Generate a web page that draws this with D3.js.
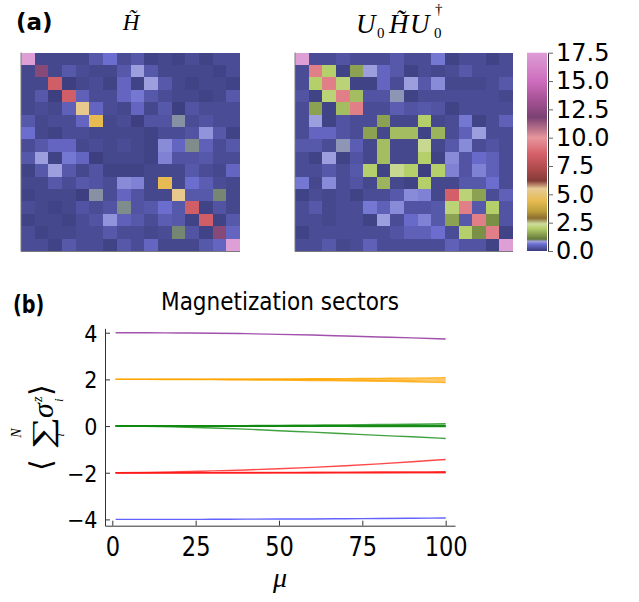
<!DOCTYPE html>
<html><head><meta charset="utf-8">
<script src="https://cdn.jsdelivr.net/npm/d3@7"></script>
<style>body{margin:0;background:#fff}svg{display:block}</style>
</head><body>
<svg id="c" width="639" height="602"></svg>
<script>
// ---------- DATA ----------
const cellIndex = d3.range(16);
const hTilde = [
 [17.5,.15,.15,.15,.15,.35,.6,.2,.35,.1,.15,.1,.2,.1,.2,.2],
 [.15,11.6,.15,.35,.2,.15,.15,.35,.85,.35,.15,.15,.15,.15,.1,.2],
 [.15,.15,8.4,.05,.15,.2,.1,.5,.1,.85,.35,.15,.1,.15,.15,.1],
 [.15,.35,.05,8.4,.45,.2,.2,.5,.65,.35,.2,.15,.15,.1,.15,.35],
 [.15,.2,.15,.45,5.4,.5,.2,.15,.5,.15,.35,.05,.3,.2,.2,.2],
 [.35,.15,.2,.2,.5,4.4,.15,.2,.05,.3,.3,.92,.2,.3,.2,.2],
 [.6,.15,.1,.2,.2,.15,.15,.15,.15,.1,.2,.2,.3,.8,.35,.1],
 [.2,.35,.5,.5,.15,.2,.15,.2,.15,.1,.75,.5,.95,.45,.2,.35],
 [.35,.85,.1,.65,.5,.05,.15,.15,.15,.1,.7,.3,.3,.35,.2,.2],
 [.1,.35,.85,.35,.15,.3,.1,.1,.1,.15,.15,.15,.35,.2,.15,.5],
 [.15,.15,.35,.2,.35,.3,.2,.75,.7,.15,4.4,.15,.6,.4,.2,.15],
 [.1,.15,.15,.15,.05,.92,.2,.5,.3,.15,.15,5.4,.35,.35,.98,.15],
 [.2,.15,.1,.15,.3,.2,.3,.95,.3,.35,.6,.35,8.4,.1,.3,.15],
 [.1,.15,.15,.1,.2,.3,.8,.45,.35,.2,.4,.35,.1,8.4,.1,.35],
 [.2,.1,.15,.15,.2,.2,.35,.2,.2,.15,.2,.98,.3,.1,11.6,.5],
 [.2,.2,.1,.35,.2,.2,.1,.35,.2,.5,.15,.15,.15,.35,.5,17.5]
];
const hRotated = [
 [17.5,.2,.2,.3,.2,.2,.2,.35,.2,.2,.65,.1,.2,.2,.1,.2],
 [.2,9.4,2.0,.1,1.5,.85,.5,.35,.1,.2,.15,.2,.35,.2,.2,.2],
 [.2,2.0,9.4,2.1,.1,.1,.5,.2,.85,.35,.75,.15,.15,.15,.2,.35],
 [.3,.1,2.1,9.4,1.8,.3,.3,.9,.1,.2,.2,.2,.2,.2,.2,.15],
 [.2,1.5,.1,1.8,9.4,.2,.2,.4,.3,.35,.3,.1,.2,.2,.2,.2],
 [.2,.85,.1,.3,.2,.2,1.5,.15,.15,2.0,.15,.2,.65,.1,.2,.45],
 [.2,.5,.5,.3,.2,1.5,.15,1.8,1.8,.1,1.7,.2,.45,.85,.2,.2],
 [.35,.35,.2,.9,.4,.15,1.8,.15,.15,2.3,.15,.35,.75,.2,.3,.2],
 [.2,.1,.85,.1,.3,.15,1.8,.15,.15,2.0,.1,.75,.3,.55,.45,.2],
 [.2,.2,.35,.2,.35,2.0,.1,2.3,2.0,.05,2.0,.7,.3,.7,.45,.2],
 [.65,.15,.75,.2,.3,.15,1.7,.15,.1,2.0,.15,.15,.35,.35,.6,.2],
 [.1,.2,.15,.2,.1,.2,.2,.35,.75,.7,.15,8.5,2.1,1.5,.2,.45],
 [.2,.35,.15,.2,.2,.65,.45,.75,.3,.3,.35,2.1,9.4,.35,2.0,.3],
 [.2,.2,.15,.2,.2,.1,.85,.2,.55,.7,.35,1.5,.35,9.4,1.3,.3],
 [.1,.2,.2,.2,.2,.2,.2,.3,.45,.45,.6,.2,2.0,1.3,9.4,.1],
 [.2,.2,.35,.15,.2,.45,.2,.2,.2,.2,.2,.45,.3,.3,.1,17.5]
];
const colorbarTicks = [0, 2.5, 5, 7.5, 10, 12.5, 15, 17.5];
const cmapValues = [0, 0.3, 0.6, 0.85, 1.05, 1.5, 2.0, 2.4, 2.9, 3.5, 4.4, 5.5, 6.2, 7.2, 8.6, 10.0, 11.8, 13.3, 15.0, 17.5];
const cmapColors = ["#393b79","#5254a3","#6b6ecf","#9c9ede","#637939","#8ca252","#b5cf6b","#cedb9c",
                    "#8c6d31","#bd9e39","#e7ba52","#e7cb94","#843c39","#ad494a","#d6616b","#e7969c",
                    "#7b4173","#a55194","#ce6dbd","#de9ed6"];

const mu = [1, 10, 20, 30, 40, 50, 60, 70, 80, 90, 100];
const sectorPlus4  = [4.0, 4.0, 3.99, 3.98, 3.96, 3.93, 3.9, 3.86, 3.82, 3.78, 3.73];
const sectorPlus2a = [2, 2, 2, 2.005, 2.01, 2.015, 2.025, 2.035, 2.045, 2.055, 2.07];
const sectorPlus2b = [2, 2, 2, 2, 2, 2, 2.005, 2.01, 2.01, 2.01, 2.01];
const sectorPlus2c = [2, 2, 2, 2, 1.995, 1.99, 1.98, 1.97, 1.96, 1.945, 1.93];
const sectorPlus2d = [2, 2, 1.995, 1.99, 1.98, 1.97, 1.955, 1.94, 1.92, 1.9, 1.87];
const sectorZeroA  = [0, 0, 0.005, 0.01, 0.02, 0.03, 0.04, 0.05, 0.065, 0.08, 0.1];
const sectorZeroB  = [0, 0, 0, 0, 0, 0.005, 0.01, 0.015, 0.02, 0.025, 0.03];
const sectorZeroC  = [0, 0, 0, 0, 0, 0, 0, 0, 0, 0, 0];
const sectorZeroD  = [0, 0, 0, 0, 0, 0, 0, 0, -0.005, -0.005, -0.01];
const sectorZeroE  = [0, 0, 0, -0.005, -0.005, -0.01, -0.01, -0.015, -0.02, -0.02, -0.02];
const sectorZeroF  = [0, -0.01, -0.04, -0.08, -0.13, -0.2, -0.26, -0.33, -0.4, -0.46, -0.53];
const sectorMinus2a = [-2, -1.99, -1.96, -1.92, -1.88, -1.83, -1.77, -1.7, -1.62, -1.53, -1.43];
const sectorMinus2b = [-2, -2, -2, -1.995, -1.99, -1.985, -1.98, -1.975, -1.97, -1.965, -1.96];
const sectorMinus2c = [-2, -2, -2, -2, -2, -2, -2, -1.995, -1.99, -1.985, -1.98];
const sectorMinus2d = [-2, -2, -2, -2, -2, -2, -2, -2, -2, -2, -2];
const sectorMinus4  = [-4, -4, -4, -3.995, -3.99, -3.985, -3.98, -3.97, -3.96, -3.95, -3.94];
const xTicks = [0, 25, 50, 75, 100];
const yTicks = [-4, -2, 0, 2, 4];

const seriesList = [
  {vals: sectorMinus4, color: "#3a3aff"},
  {vals: sectorMinus2d, color: "#ff1a1a"}, {vals: sectorMinus2c, color: "#ff1a1a"},
  {vals: sectorMinus2b, color: "#ff1a1a"}, {vals: sectorMinus2a, color: "#ff1a1a"},
  {vals: sectorZeroC, color: "#108a10"}, {vals: sectorZeroD, color: "#108a10"},
  {vals: sectorZeroE, color: "#108a10"}, {vals: sectorZeroB, color: "#108a10"},
  {vals: sectorZeroA, color: "#108a10"}, {vals: sectorZeroF, color: "#108a10"},
  {vals: sectorPlus2a, color: "#ffa500"}, {vals: sectorPlus2b, color: "#ffa500"},
  {vals: sectorPlus2c, color: "#ffa500"}, {vals: sectorPlus2d, color: "#ffa500"},
  {vals: sectorPlus4, color: "#8a2596"}
];

// ---------- DRAW ----------
const svg = d3.select("#c");
const sans = "DejaVu Sans, sans-serif";
const serif = "Liberation Serif, DejaVu Serif, serif";
const cmap = d3.scaleLinear().domain(cmapValues).range(cmapColors).interpolate(d3.interpolateRgb).clamp(true);

function heatmap(matrix, x0, x1, y0, y1) {
  const xs = d3.scaleBand().domain(cellIndex).range([x0, x1]);
  const ys = d3.scaleBand().domain(cellIndex).range([y0, y1]);
  const g = svg.append("g");
  const cells = [];
  matrix.forEach((row, r) => row.forEach((v, c) => cells.push({r, c, v})));
  g.selectAll("rect").data(cells).join("rect")
    .attr("x", d => xs(d.c)).attr("y", d => ys(d.r))
    .attr("width", xs.bandwidth() + 0.4).attr("height", ys.bandwidth() + 0.4)
    .attr("fill", d => cmap(d.v)).attr("shape-rendering", "crispEdges");
  g.append("line").attr("x1", x0).attr("x2", x0).attr("y1", y0).attr("y2", y1 + 0.5)
    .attr("stroke", "#7a7a7a").attr("stroke-width", 1);
  g.append("line").attr("x1", x0).attr("x2", x1).attr("y1", y1 + 0.5).attr("y2", y1 + 0.5)
    .attr("stroke", "#7a7a7a").attr("stroke-width", 1);
}
heatmap(hTilde, 21, 240, 52.5, 251);
heatmap(hRotated, 295, 513, 52.5, 251);

// titles panel (a)
svg.append("text").attr("x", 16).attr("y", 30).attr("font-family", sans).attr("font-weight", "bold")
  .attr("font-size", 23).text("(a)");
svg.append("text").attr("x", 131).attr("y", 30).attr("text-anchor", "middle")
  .attr("font-family", serif).attr("font-style", "italic").attr("font-size", 23).text("H\u0303");

const t2 = svg.append("g").attr("font-family", serif);
t2.append("text").attr("x", 356).attr("y", 33).attr("font-style", "italic").attr("font-size", 27).text("U");
t2.append("text").attr("x", 377).attr("y", 38).attr("font-size", 15).text("0");
t2.append("text").attr("x", 389).attr("y", 33).attr("font-style", "italic").attr("font-size", 27).text("H\u0303");
t2.append("text").attr("x", 410).attr("y", 33).attr("font-style", "italic").attr("font-size", 27).text("U");
t2.append("text").attr("x", 434).attr("y", 38).attr("font-size", 15).text("0");
t2.append("text").attr("x", 435).attr("y", 14).attr("font-size", 15).text("\u2020");

// colorbar
const cbY = d3.scaleLinear().domain([0, 17.5]).range([251, 52.7]);
const grad = svg.append("defs").append("linearGradient").attr("id", "cbg")
  .attr("x1", 0).attr("y1", 1).attr("x2", 0).attr("y2", 0);
cmapValues.forEach((v, i) => grad.append("stop").attr("offset", v / 17.5).attr("stop-color", cmapColors[i]));
svg.append("rect").attr("x", 527).attr("y", cbY(17.5)).attr("width", 20)
  .attr("height", cbY(0) - cbY(17.5)).attr("fill", "url(#cbg)");
const cbAxis = svg.append("g").attr("transform", "translate(548,0)")
  .call(d3.axisRight(cbY).tickValues(colorbarTicks).tickFormat(d3.format(".1f")).tickSizeInner(5).tickSizeOuter(0).tickPadding(3));
cbAxis.selectAll("text").attr("font-family", sans).attr("font-size", 24).attr("fill", "#000");
cbAxis.selectAll("line, path").attr("stroke", "#666");

// panel (b)
const xS = d3.scaleLinear().domain([-2.19, 102.8]).range([105, 455]);
const yS = d3.scaleLinear().domain([-4.27, 4.19]).range([525.7, 328.3]);

svg.append("text").attr("transform", "translate(13,313) scale(0.8,1)").attr("font-family", sans)
  .attr("font-weight", "bold").attr("font-size", 24).text("(b)");
svg.append("text").attr("x", 280).attr("y", 310).attr("text-anchor", "middle").attr("font-family", sans)
  .attr("font-size", 24).attr("textLength", 238).attr("lengthAdjust", "spacingAndGlyphs").text("Magnetization sectors");

const line = d3.line().x((d, i) => xS(mu[i])).y(d => yS(d)).curve(d3.curveMonotoneX);
svg.append("g").selectAll("path").data(seriesList).join("path")
  .attr("d", d => line(d.vals)).attr("fill", "none").attr("stroke", d => d.color)
  .attr("stroke-width", 1.4).attr("stroke-opacity", 0.8);

const xAx = svg.append("g").attr("transform", `translate(0,${yS.range()[0]})`)
  .call(d3.axisBottom(xS).tickValues(xTicks).tickSizeInner(-5).tickSizeOuter(0));
xAx.selectAll("text").attr("y", null).attr("dy", null)
  .attr("transform", "translate(0,30.5) scale(0.85,1)")
  .attr("font-family", sans).attr("font-size", 26.5).attr("fill", "#000");
const yAx = svg.append("g").attr("transform", `translate(${xS.range()[0]},0)`)
  .call(d3.axisLeft(yS).tickValues(yTicks).tickSizeInner(-5).tickSizeOuter(0));
yAx.selectAll("text").attr("x", null).attr("dy", "0.36em")
  .attr("transform", "translate(-7.5,0) scale(0.9,1)")
  .attr("font-family", sans).attr("font-size", 23).attr("fill", "#000");
svg.selectAll("g path.domain").attr("stroke", "#333");
xAx.selectAll("line").attr("stroke", "#333");
yAx.selectAll("line").attr("stroke", "#333");

// x label
svg.append("text").attr("x", 280).attr("y", 587).attr("text-anchor", "middle").attr("font-family", serif)
  .attr("font-style", "italic").attr("font-size", 28).text("\u03bc");

// y label (rotated)
const yl = svg.append("g").attr("transform", "translate(40,427) rotate(-90)").attr("font-family", serif);
yl.append("text").attr("x", -44).attr("y", 11).attr("font-size", 30).text("\u27e8");
yl.append("text").attr("transform", "translate(-22,12) scale(1.35,0.85)").attr("font-size", 34).text("\u2211");
yl.append("text").attr("x", -6).attr("y", -19).attr("text-anchor", "middle").attr("font-style", "italic").attr("font-size", 14).text("N");
yl.append("text").attr("x", -8).attr("y", 24).attr("text-anchor", "middle").attr("font-style", "italic").attr("font-size", 13).text("i");
yl.append("text").attr("x", 9).attr("y", 13).attr("font-style", "italic").attr("font-size", 30).text("\u03c3");
yl.append("text").attr("x", 25).attr("y", 2).attr("font-style", "italic").attr("font-size", 14).text("z");
yl.append("text").attr("x", 25).attr("y", 23).attr("font-style", "italic").attr("font-size", 13).text("i");
yl.append("text").attr("x", 31).attr("y", 11).attr("font-size", 30).text("\u27e9");
</script>
</body></html>
